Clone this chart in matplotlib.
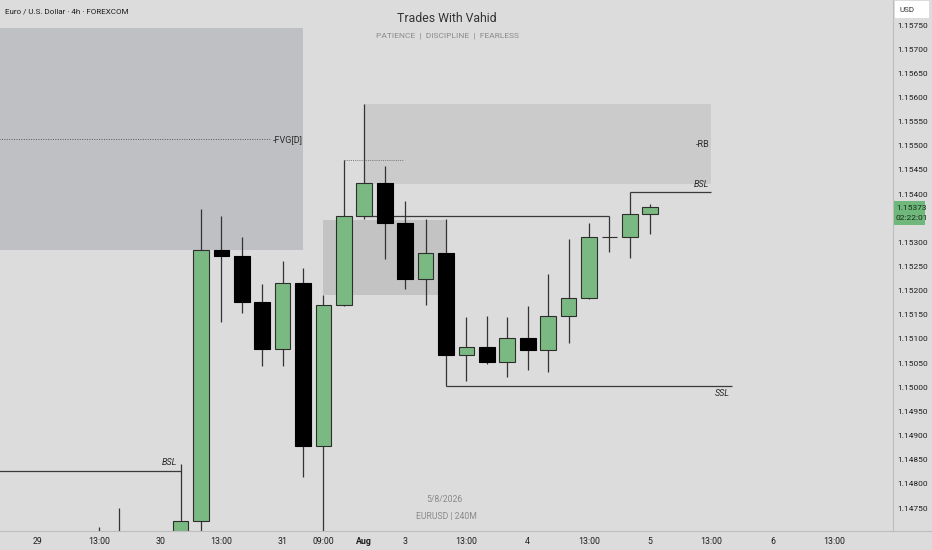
import matplotlib
matplotlib.use("Agg")
import matplotlib.pyplot as plt
from matplotlib.patches import Rectangle
import numpy as np

plt.rcParams['font.family'] = ['Roboto', 'DejaVu Sans']

# 4h EURUSD candles, index 0 = Jul 29
idx    = np.arange(3, 31)
opens  = [1.14660, 1.14670, 1.14700, 1.14640, 1.14650, 1.14724, 1.15284, 1.15271, 1.15176, 1.15079,
          1.15216, 1.14879, 1.15170, 1.15354, 1.15422, 1.15341, 1.15224, 1.15278, 1.15066, 1.15084,
          1.15053, 1.15101, 1.15078, 1.15148, 1.15184, 1.15311, 1.15312, 1.15359]
highs  = [1.14711, 1.14750, 1.14690, 1.14680, 1.14841, 1.15369, 1.15355, 1.15311, 1.15213, 1.15261,
          1.15246, 1.15190, 1.15470, 1.15586, 1.15458, 1.15386, 1.15348, 1.15348, 1.15146, 1.15148,
          1.15146, 1.15169, 1.15234, 1.15307, 1.15341, 1.15355, 1.15404, 1.15379]
lows   = [1.14620, 1.14650, 1.14620, 1.14580, 1.14600, 1.14680, 1.15136, 1.15153, 1.15044, 1.15044,
          1.14815, 1.14690, 1.15168, 1.15348, 1.15266, 1.15204, 1.15170, 1.15003, 1.15014, 1.15048,
          1.15021, 1.15036, 1.15032, 1.15091, 1.15183, 1.15281, 1.15267, 1.15317]
closes = [1.14680, 1.14700, 1.14640, 1.14650, 1.14724, 1.15284, 1.15271, 1.15176, 1.15079, 1.15216,
          1.14879, 1.15170, 1.15354, 1.15422, 1.15341, 1.15224, 1.15278, 1.15066, 1.15084, 1.15053,
          1.15101, 1.15078, 1.15148, 1.15184, 1.15311, 1.15312, 1.15359, 1.15373]

tick_pos = [0, 3, 6, 9, 12, 14, 16, 18, 21, 24, 27, 30, 33, 36, 39]
tick_lab = ['29', '13:00', '30', '13:00', '31', '09:00', 'Aug', '3', '13:00', '4',
            '13:00', '5', '13:00', '6', '13:00']
price_ticks = [1.14750, 1.14800, 1.14850, 1.14900, 1.14950, 1.15000, 1.15050, 1.15100, 1.15150,
               1.15200, 1.15250, 1.15300, 1.15400, 1.15450, 1.15500, 1.15550, 1.15600, 1.15650,
               1.15700, 1.15750]
last_price = 1.15373

# zones: (x0, x1, y0, y1)
fvg_zone = (-2.0, 13.0, 1.15284, 1.15744)
rb_zone  = (16.0, 33.0, 1.15421, 1.15586)
mid_zone = (14.0, 20.0, 1.15190, 1.15346)
fvg_mid  = 1.15513
bsl_low, bsl_high, ssl_level, eq_high, dot_high = 1.14827, 1.15404, 1.15003, 1.15355, 1.15470

BG = '#dcdcdc'
GREEN = '#7bb982'
W, H = 932, 550

fig = plt.figure(figsize=(W / 100, H / 100), dpi=100, facecolor=BG)
ax = fig.add_axes([0, 19 / H, 893 / W, 531 / H], facecolor=BG)
ax.set_xlim(-1.841, 41.89)
ax.set_ylim(1.147024, 1.158018)

for (x0, x1, y0, y1), col in [(fvg_zone, '#bfc0c4'), (rb_zone, '#cbcbcb'), (mid_zone, '#c3c3c3')]:
    ax.add_patch(Rectangle((x0, y0), x1 - x0, y1 - y0, facecolor=col, edgecolor='none', zorder=1))

# structure lines
ax.hlines(fvg_mid, -2, 11.45, colors='#555555', linestyles=(0, (1, 1.5)), linewidth=0.7, zorder=2)
ax.text(11.5, fvg_mid, '-FVG[D]', fontsize=6.5, color='#2a2a2a', va='center', ha='left', zorder=3)
ax.text(32.9, 1.15502, '-RB', fontsize=6.5, color='#2a2a2a', va='center', ha='right', zorder=3)
ax.hlines(dot_high, 15, 17.9, colors='#777777', linestyles=(0, (1, 1.2)), linewidth=0.7, zorder=2)
lc = '#3a3a3a'
ax.hlines(bsl_low, -2, 7, colors=lc, linewidth=0.9, zorder=2)
ax.text(6.85, bsl_low + 0.00007, 'BSL', fontsize=6.5, style='italic', color='#2a2a2a', ha='right', va='bottom')
ax.hlines(eq_high, 16, 28, colors=lc, linewidth=0.9, zorder=2)
ax.hlines(bsl_high, 29, 33, colors=lc, linewidth=0.9, zorder=2)
ax.text(32.9, bsl_high + 0.00007, 'BSL', fontsize=6.5, style='italic', color='#2a2a2a', ha='right', va='bottom')
ax.hlines(ssl_level, 20, 34, colors=lc, linewidth=0.9, zorder=2)
ax.text(33.9, ssl_level - 0.00007, 'SSL', fontsize=6.5, style='italic', color='#2a2a2a', ha='right', va='top')

# candles
o = np.array(opens); c = np.array(closes)
up = c >= o
ax.vlines(idx, lows, highs, colors='#333333', linewidth=0.9, zorder=4)
body_h = np.maximum(np.abs(c - o), 0.000008)
ax.bar(idx[up], body_h[up], bottom=np.minimum(o, c)[up], width=0.77, color=GREEN,
       edgecolor='#2e2e2e', linewidth=0.8, zorder=5)
ax.bar(idx[~up], body_h[~up], bottom=np.minimum(o, c)[~up], width=0.77, color='#000000',
       edgecolor='#000000', linewidth=0.8, zorder=5)

# axes styling
for s in ['top', 'left', 'bottom']:
    ax.spines[s].set_visible(False)
ax.spines['right'].set_color('#bdbdbd')
ax.spines['right'].set_linewidth(0.8)
ax.yaxis.tick_right()
ax.set_yticks(price_ticks)
ax.set_yticklabels([f'{p:.5f}' for p in price_ticks])
ax.tick_params(axis='y', length=0, pad=3, labelsize=6, labelcolor='#1e1e1e')
ax.set_xticks(tick_pos)
ax.set_xticklabels(tick_lab)
ax.tick_params(axis='x', length=0, pad=4, labelsize=6.3, labelcolor='#1e1e1e')
for t in ax.get_xticklabels():
    if t.get_text() == 'Aug':
        t.set_fontweight('bold')

fig.add_artist(plt.Line2D([0, 1], [19 / H, 19 / H], color='#bdbdbd', linewidth=0.8))

# header texts
def fx(px): return px / W
def fy(py): return 1 - py / H
fig.text(fx(5), fy(11), 'Euro / U.S. Dollar · 4h · FOREXCOM', fontsize=5.8, color='#1e1e1e', va='center')
fig.text(fx(447), fy(18), 'Trades With Vahid', fontsize=8.8, color='#333333', ha='center', va='center')
fig.text(fx(447), fy(36), 'PATIENCE  |  DISCIPLINE  |  FEARLESS', fontsize=6, color='#8a8a8a',
         ha='center', va='center')
fig.text(fx(444), fy(500), '5/8/2026', fontsize=6.2, color='#8a8a8a', ha='center', va='center')
fig.text(fx(446), fy(517), 'EURUSD | 240M', fontsize=6.2, color='#8a8a8a', ha='center', va='center')

# right scale boxes
fig.add_artist(Rectangle((fx(895), fy(18)), 34 / W, 17 / H, facecolor='white', edgecolor='none'))
fig.text(fx(900), fy(10), 'USD', fontsize=5.8, color='#333333', va='center')
fig.add_artist(Rectangle((fx(894), fy(225)), 31 / W, 24 / H, facecolor='#6fb77a', edgecolor='none'))
fig.text(fx(896), fy(208), f'{last_price:.5f}', fontsize=6, color='#1b2b1b', va='center')
fig.text(fx(896), fy(218), '02:22:01', fontsize=6, color='#1b2b1b', va='center')

fig.savefig('out.png', dpi=100, facecolor=BG)
